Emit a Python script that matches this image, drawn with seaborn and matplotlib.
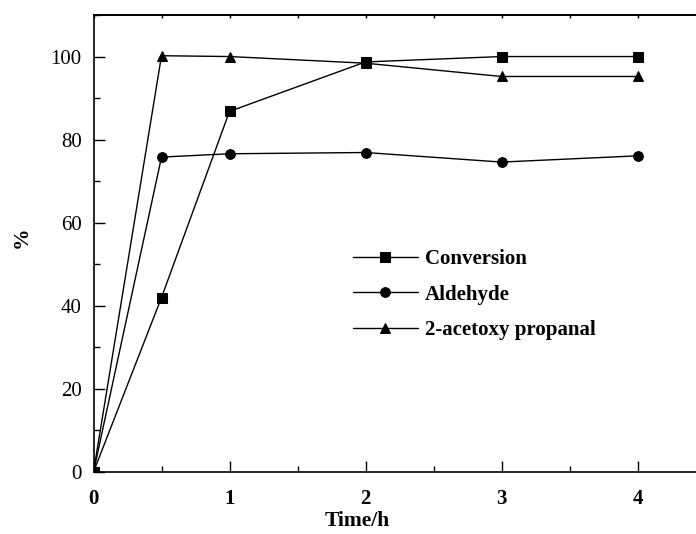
import matplotlib
matplotlib.use("Agg")
import matplotlib.pyplot as plt
from matplotlib.ticker import MultipleLocator
import seaborn as sns
import pandas as pd

time_h = [0, 0.5, 1, 2, 3, 4]
conversion = [0, 42.0, 86.8, 98.7, 100.0, 100.0]
aldehyde = [0, 75.8, 76.6, 76.9, 74.6, 76.1]
acetoxy = [0, 100.2, 100.0, 98.4, 95.2, 95.2]
series_names = ["Conversion", "Aldehyde", "2-acetoxy propanal"]

df = pd.DataFrame({
    "Time": time_h * 3,
    "Value": conversion + aldehyde + acetoxy,
    "Series": [series_names[0]] * 6 + [series_names[1]] * 6 + [series_names[2]] * 6,
})

sns.set_style("ticks")
plt.rcParams["font.family"] = ["Liberation Serif", "DejaVu Serif"]
plt.rcParams["text.color"] = "black"
plt.rcParams["axes.labelcolor"] = "black"
plt.rcParams["xtick.color"] = "black"
plt.rcParams["ytick.color"] = "black"
plt.rcParams["axes.edgecolor"] = "black"

fig = plt.figure(figsize=(6.96, 5.34), dpi=100)
left = 93.5 / 696
bottom = (534 - 472) / 534
width = (4.5 * 136) / 696
height = (472 - 15) / 534
ax = fig.add_axes([left, bottom, width, height])

sns.lineplot(
    data=df, x="Time", y="Value", hue="Series", style="Series",
    hue_order=series_names, style_order=series_names,
    palette=["black"] * 3, markers={"Conversion": "s", "Aldehyde": "o", "2-acetoxy propanal": "^"},
    dashes=False, linewidth=1.0, markersize=7, markeredgecolor="black",
    ax=ax, legend=True,
)

ax.set_xlim(0, 4.5)
ax.set_ylim(0, 110)
ax.xaxis.set_major_locator(MultipleLocator(1))
ax.xaxis.set_minor_locator(MultipleLocator(0.5))
ax.yaxis.set_major_locator(MultipleLocator(20))
ax.yaxis.set_minor_locator(MultipleLocator(10))
ax.tick_params(which="major", direction="in", length=8, width=1, labelsize=15, color="black", labelcolor="black")
ax.tick_params(which="minor", direction="in", length=4.5, width=1, color="black")
ax.tick_params(axis="x", pad=12)
ax.tick_params(axis="y", pad=8.5)
for lbl in ax.get_xticklabels():
    lbl.set_fontweight("bold")

# tiny ticks on the top spine
ax_top = ax.secondary_xaxis("top")
ax_top.xaxis.set_major_locator(MultipleLocator(1))
ax_top.xaxis.set_minor_locator(MultipleLocator(0.5))
ax_top.tick_params(which="both", direction="in", length=2, width=1, labeltop=False, color="black")
ax_top.spines["top"].set_linewidth(1.2)
ax_top.spines["top"].set_color("black")

for s in ["left", "bottom", "top", "right"]:
    ax.spines[s].set_color("black")
    ax.spines[s].set_linewidth(1.2)

ax.set_xlabel("Time/h", fontsize=15.5, fontweight="bold", color="black")
ax.set_ylabel("%", fontsize=15.5, fontweight="bold", color="black")
ax.xaxis.set_label_coords((357 - 93.5) / 612, -0.085)
ax.yaxis.set_label_coords((32 - 93.5) / 612, 0.514)

leg = ax.legend(
    loc="upper left", bbox_to_anchor=((353 - 93.5) / 612, (472 - 249) / 457),
    frameon=False, borderaxespad=0, borderpad=0, handlelength=3.1,
    handletextpad=0.35, labelspacing=0.75, prop={"family": "Liberation Serif", "weight": "bold", "size": 15},
)
for t in leg.get_texts():
    t.set_color("black")

fig.savefig("out.png", dpi=100)
